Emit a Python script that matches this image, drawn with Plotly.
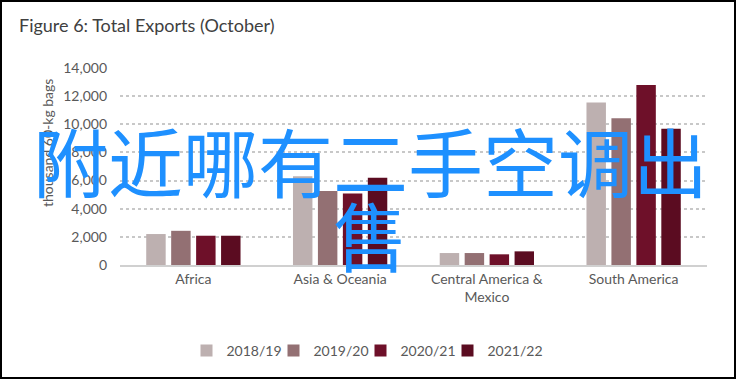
import plotly.graph_objects as go

categories = ["Africa", "Asia & Oceania", "Central America &<br>Mexico", "South America"]
series_names = ["2018/19", "2019/20", "2020/21", "2021/22"]
values_2018_19 = [2200, 6300, 850, 11550]
values_2019_20 = [2430, 5260, 850, 10430]
values_2020_21 = [2080, 5090, 760, 12790]
values_2021_22 = [2080, 6200, 970, 9680]
series_values = [values_2018_19, values_2019_20, values_2020_21, values_2021_22]
colors = ["#BDB0B0", "#937073", "#6E1029", "#5B0C21"]
y_ticks = [0, 2000, 4000, 6000, 8000, 10000, 12000, 14000]
overlay_line1 = "附近哪有二手空调出"
overlay_line2 = "售"

W, H = 736, 380
L, R, T, B = 120, 29, 68, 115
pw, ph = W - L - R, H - T - B

def px_x(px):
    return (px - L) / pw

def px_y(py):
    return (H - B - py) / ph

fig = go.Figure()
for name, vals, col in zip(series_names, series_values, colors):
    fig.add_trace(go.Bar(x=categories, y=vals, name=name, marker=dict(color=col, line=dict(width=0))))

# invisible spacer entry so the last legend label is not clipped
fig.add_trace(go.Scatter(x=[None], y=[None], mode="markers", name=" ",
                         marker=dict(color="rgba(0,0,0,0)"), hoverinfo="skip"))

fig.update_layout(
    width=W, height=H,
    margin=dict(l=L, r=R, t=T, b=B),
    paper_bgcolor="white", plot_bgcolor="white",
    barmode="group", bargap=0.32, bargroupgap=0.22,
    font=dict(family="Lato", size=14, color="#595959"),
    showlegend=True,
    legend=dict(orientation="h", x=px_x(404), xanchor="center", y=px_y(351), yanchor="middle",
                font=dict(family="Lato", size=14, color="#595959"), traceorder="normal",
                entrywidth=42, entrywidthmode="pixels"),
    xaxis=dict(showgrid=False, showline=True, linecolor="#D0D0D0", linewidth=1.5,
               ticks="", tickfont=dict(family="Lato", size=14, color="#595959")),
    yaxis=dict(range=[0, 14000], tickvals=y_ticks, tickformat=",", showgrid=True,
               gridcolor="#C8C8C8", griddash="dot", gridwidth=1.5, zeroline=False,
               showline=False, ticks="", ticklabelstandoff=12,
               tickfont=dict(family="Lato", size=14, color="#595959")),
)

fig.add_annotation(text="Figure 6: Total Exports (October)", xref="paper", yref="paper",
                   x=px_x(17), y=px_y(25), xanchor="left", yanchor="middle", showarrow=False,
                   font=dict(family="Lato", size=18, color="#404040"))
fig.add_annotation(text="thousand 60-kg bags", xref="paper", yref="paper",
                   x=px_x(47), y=px_y(143), xanchor="center", yanchor="middle", textangle=-90,
                   showarrow=False, font=dict(family="Lato", size=14, color="#595959"))
fig.add_annotation(text=overlay_line1, xref="paper", yref="paper",
                   x=px_x(370), y=px_y(159), xanchor="center", yanchor="middle", showarrow=False,
                   font=dict(family="Noto Sans CJK SC", size=75, color="#1E90FF"))
fig.add_annotation(text=overlay_line2, xref="paper", yref="paper",
                   x=px_x(370), y=px_y(233), xanchor="center", yanchor="middle", showarrow=False,
                   font=dict(family="Noto Sans CJK SC", size=75, color="#1E90FF"))

fig.add_shape(type="rect", xref="paper", yref="paper",
              x0=px_x(1), x1=px_x(735), y0=px_y(378), y1=px_y(1),
              line=dict(color="black", width=2), fillcolor="rgba(0,0,0,0)", layer="above")

fig.write_html("out.html", config={"displayModeBar": False},
               post_script="document.body.style.margin='0';document.body.style.overflow='hidden';")
